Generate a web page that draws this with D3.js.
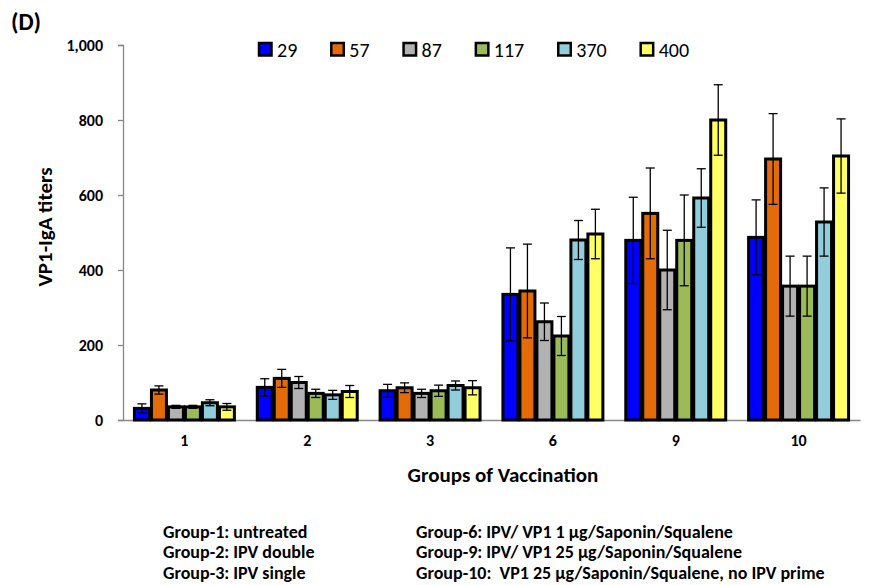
<!DOCTYPE html>
<html><head><meta charset="utf-8">
<script src="https://cdn.jsdelivr.net/npm/d3@7"></script>
<style>body{margin:0;background:#fff}svg{display:block}text{font-family:Carlito,Lato,sans-serif}</style>
</head><body><svg id="c" width="871" height="585"></svg>
<script>
const groups = ["1","2","3","6","9","10"];
const series = ["29","57","87","117","370","400"];
const colors = ["#0000FF","#E36C09","#B2B2B2","#9BBB59","#92CDDC","#FFFF66"];
// values per series (one entry per group)
const v29  = [31, 87, 78, 335, 479, 487];
const v57  = [80, 111, 86, 344, 551, 696];
const v87  = [35, 100, 71, 262, 400, 357];
const v117 = [35, 71, 78, 224, 479, 357];
const v370 = [46, 67, 92, 480, 592, 528];
const v400 = [35, 76, 86, 496, 800, 704];
// error bar half-lengths
const e29  = [12, 23, 17, 124, 115, 100];
const e57  = [11, 24, 13, 125, 121, 121];
const e87  = [4, 16, 11, 50, 106, 80];
const e117 = [4, 11, 15, 52, 121, 80];
const e370 = [8, 12, 12, 52, 78, 91];
const e400 = [9, 16, 19, 66, 94, 99];
const yTicks = [0, 200, 400, 600, 800, 1000];
const notesLeft = ["Group-1: untreated","Group-2: IPV double","Group-3: IPV single"];
const notesRight = ["Group-6: IPV/ VP1 1 \u00b5g/Saponin/Squalene","Group-9: IPV/ VP1 25 \u00b5g/Saponin/Squalene","Group-10:\u00a0 VP1 25 \u00b5g/Saponin/Squalene, no IPV prime"];

const values = [v29,v57,v87,v117,v370,v400];
const errs = [e29,e57,e87,e117,e370,e400];

const svg = d3.select("#c");
const pL = 123, pR = 860, pT = 45, pB = 420;
const FF = "Carlito,Lato,sans-serif";
const x0 = d3.scaleBand().domain(groups).range([pL, pR]).paddingInner(0.17).paddingOuter(0.085);
const x1 = d3.scaleBand().domain(series).range([0, x0.bandwidth()]);
const y = d3.scaleLinear().domain([0, 1000]).range([pB, pT]);

// y axis
const ya = svg.append("g").attr("transform", `translate(${pL},0)`)
  .call(d3.axisLeft(y).tickValues(yTicks).tickFormat(d3.format(",")).tickSize(5).tickPadding(15));
ya.select(".domain").attr("stroke","#888").attr("stroke-width",1.3);
ya.selectAll(".tick line").attr("stroke","#888").attr("stroke-width",1.3);
ya.selectAll(".tick text").attr("font-size",16).attr("font-weight","bold").attr("fill","#000").style("font-family",FF);

// x axis
const xa = svg.append("g").attr("transform", `translate(0,${pB})`)
  .call(d3.axisBottom(x0).tickSize(0).tickPadding(15).tickSizeOuter(0));
xa.select(".domain").attr("stroke","#888").attr("stroke-width",1.3);
xa.selectAll(".tick text").attr("font-size",16).attr("font-weight","bold").attr("fill","#000").style("font-family",FF);

// bars
const gg = svg.append("g").selectAll("g").data(groups).join("g")
  .attr("transform", d => `translate(${x0(d)},0)`);
gg.each(function(g, gi){
  const sel = d3.select(this);
  series.forEach((s, si) => {
    const v = values[si][gi];
    sel.append("rect").attr("x", x1(s)+1).attr("width", x1.bandwidth()-2)
      .attr("y", y(v)).attr("height", y(0)-y(v))
      .attr("fill", colors[si]).attr("stroke","#000").attr("stroke-width",3);
  });
  series.forEach((s, si) => {
    const v = values[si][gi], e = errs[si][gi];
    const cx = x1(s) + x1.bandwidth()/2;
    sel.append("line").attr("x1",cx).attr("x2",cx).attr("y1",y(v+e)).attr("y2",y(v-e)).attr("stroke","#000").attr("stroke-width",1.3);
    [v+e, v-e].forEach(t => sel.append("line").attr("x1",cx-4.5).attr("x2",cx+4.5).attr("y1",y(t)).attr("y2",y(t)).attr("stroke","#000").attr("stroke-width",1.3));
  });
});

// legend
let lx = 259;
series.forEach((s, si) => {
  svg.append("rect").attr("x", lx).attr("y", 43).attr("width", 12.5).attr("height", 12.5)
    .attr("fill", colors[si]).attr("stroke","#000").attr("stroke-width",2.5);
  const t = svg.append("text").attr("x", lx+18).attr("y", 57).attr("font-size",20).text(s);
  lx += 18 + t.node().getComputedTextLength() + 34;
});

// titles
svg.append("text").attr("x",11).attr("y",30).attr("font-size",24).attr("font-weight","bold").text("(D)");
svg.append("text").attr("transform","translate(52,227) rotate(-90)").attr("text-anchor","middle")
  .attr("font-size",21).attr("font-weight","bold").text("VP1-IgA titers");
svg.append("text").attr("x",503).attr("y",481.5).attr("text-anchor","middle")
  .attr("font-size",21).attr("font-weight","bold").text("Groups of Vaccination");

notesLeft.forEach((t,i) => svg.append("text").attr("x",163).attr("y",537.5+i*20.5).attr("font-size",18).attr("font-weight","bold").text(t));
notesRight.forEach((t,i) => svg.append("text").attr("x",416).attr("y",537.5+i*20.5).attr("font-size",18).attr("font-weight","bold").text(t));
</script></body></html>
